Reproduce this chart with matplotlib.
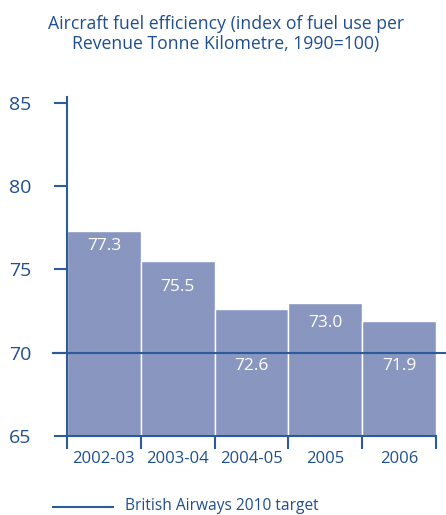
import matplotlib
matplotlib.use("Agg")
import matplotlib.pyplot as plt
from matplotlib.lines import Line2D

categories = ["2002-03", "2003-04", "2004-05", "2005", "2006"]
values = [77.3, 75.5, 72.6, 73.0, 71.9]
label_y = [76.4, 73.95, 69.2, 71.8, 69.2]
target = 70
yticks = [65, 70, 75, 80, 85]
title = "Aircraft fuel efficiency (index of fuel use per\nRevenue Tonne Kilometre, 1990=100)"
legend_label = "British Airways 2010 target"

plt.rcParams['font.family'] = ['Open Sans', 'DejaVu Sans']
blue = "#1f4f8e"
line_blue = "#2b5b98"
bar_color = "#8996c0"

W, H = 446, 515
fig = plt.figure(figsize=(W/100, H/100), dpi=100)
ax = fig.add_axes([67/W, 79/H, 369/W, 339/H])

x = list(range(len(categories)))
ax.bar([i + 0.5 for i in x], values, width=1.0, bottom=0, color=bar_color,
       edgecolor="white", linewidth=1.0, zorder=2)
ax.set_xlim(0, 5)
ax.set_ylim(65, 85.36)

for i, (v, ly) in enumerate(zip(values, label_y)):
    ax.text(i + 0.5, ly, f"{v:.1f}", ha="center", va="center", color="white",
            fontsize=12.5, zorder=4)

ax.plot([-14/369, 379/369], [target, target], color=line_blue, lw=1.5,
        transform=ax.get_yaxis_transform(), clip_on=False, zorder=3)

for s in ["top", "right"]:
    ax.spines[s].set_visible(False)
for s in ["left", "bottom"]:
    ax.spines[s].set_color(line_blue)
    ax.spines[s].set_linewidth(1.5)

ax.set_yticks(yticks)
ax.set_yticklabels([str(t) for t in yticks])
ax.tick_params(axis="y", direction="out", length=9.4, width=1.5, color=line_blue,
               labelcolor=blue, labelsize=14, pad=16)
ax.set_xticks(range(len(categories) + 1))
ax.set_xticklabels([""] * (len(categories) + 1))
ax.tick_params(axis="x", which="major", direction="out", length=9.4, width=1.5,
               color=line_blue)
ax.set_xticks([i + 0.5 for i in x], minor=True)
ax.set_xticklabels(categories, minor=True)
ax.tick_params(axis="x", which="minor", length=0, labelcolor=blue, labelsize=12, pad=11)

fig.text(226/W, 1 - 34/H, title, ha="center", va="center", color=blue,
         fontsize=12.7, linespacing=1.1)

fig.add_artist(Line2D([53/W, 113/W], [1 - 507/H, 1 - 507/H], color=line_blue, lw=1.5))
fig.text(125/W, 1 - 506/H, legend_label, ha="left", va="center", color=blue, fontsize=11.2)

fig.savefig("out.png", dpi=100)
